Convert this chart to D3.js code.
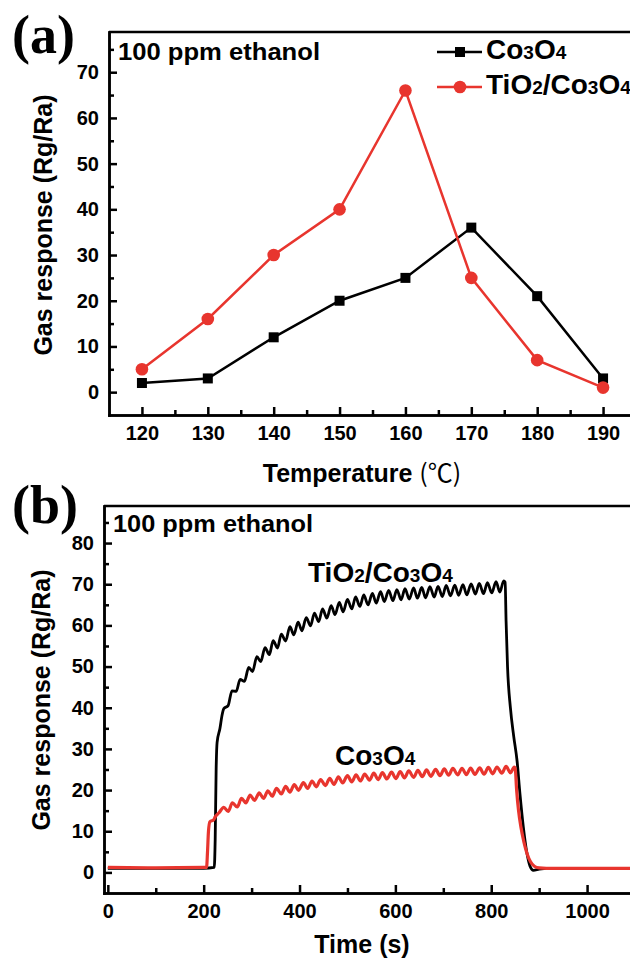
<!DOCTYPE html>
<html>
<head>
<meta charset="utf-8">
<script src="https://cdn.jsdelivr.net/npm/d3@7"></script>
<style>
  body { margin: 0; background: #fff; }
  svg { display: block; }
  text { font-family: "Liberation Sans", Arial, sans-serif; font-weight: bold; fill: #000; }
  .axis path, .axis line { stroke: #000; stroke-width: 2.5; }
  .axis text { font-size: 20px; font-family: "Liberation Sans", Arial, sans-serif; font-weight: bold; }
</style>
</head>
<body>
<div id="chart"></div>
<script>
// ---- panel (a): response vs operating temperature ----
var temps = [120, 130, 140, 150, 160, 170, 180, 190];
var co3o4Resp = [2, 3, 12, 20, 25, 36, 21, 3];
var tiCoResp = [5, 16, 30, 40, 66, 25, 7, 1];
var tempTicks = [120, 130, 140, 150, 160, 170, 180, 190];
var tempMinor = [125, 135, 145, 155, 165, 175, 185];
var respTicksA = [0, 10, 20, 30, 40, 50, 60, 70];
var respMinorA = [5, 15, 25, 35, 45, 55, 65, 75];

// ---- panel (b): dynamic response, 100 ppm ethanol ----
var tiCoTime = [0, 100, 200, 222, 224, 226, 228, 234, 238,
  242, 251, 259, 268, 276, 285, 294, 302, 311, 319, 328, 337, 345, 354, 362, 371, 380, 388, 397, 405,
  414, 423, 431, 440, 448, 457, 466, 474, 483, 491, 500, 509, 517, 526, 534, 543, 552, 560, 569, 577,
  586, 595, 603, 612, 620, 629, 638, 646, 655, 663, 672, 681, 689, 698, 706, 715, 724, 732, 741, 749,
  758, 767, 775, 784, 792, 801, 810, 818, 826,
  829, 831, 834, 840, 847, 854, 860, 867, 874, 881, 888, 900, 920, 1100];
var tiCoVal = [1, 1, 1, 1.2, 8, 25, 31.6, 35, 38,
  39.8, 40.5, 44.1, 44.0, 46.9, 46.4, 49.8, 48.8, 52.4, 51.2, 54.6, 52.9, 56.3, 54.5, 57.9, 56.2, 59.7, 57.7, 60.8, 58.7,
  61.9, 59.9, 63.0, 60.9, 64.0, 61.8, 64.8, 62.6, 65.6, 63.3, 66.3, 64.0, 66.9, 64.6, 67.4, 65.0, 67.8, 65.4, 68.2, 65.8,
  68.5, 66.0, 68.7, 66.2, 68.9, 66.4, 69.1, 66.6, 69.2, 66.7, 69.4, 66.9, 69.5, 67.0, 69.7, 67.2, 69.8, 67.3, 69.9, 67.4,
  70.1, 67.6, 70.2, 67.7, 70.4, 67.9, 70.6, 68.1, 70.8,
  70.5, 61, 50, 40, 33, 27, 19, 11, 5, 1.5, 0.5, 0.8, 1, 1];

var coTime = [0, 100, 200, 206, 208, 210, 213, 221, 224, 232,
  242, 251, 260, 270, 279, 288, 297, 306, 316, 325, 334, 343, 352, 362, 371, 380, 389, 398, 408, 417,
  426, 435, 444, 454, 463, 472, 481, 490, 500, 509, 518, 527, 536, 546, 555, 564, 573, 582, 592, 601,
  610, 619, 628, 638, 647, 656, 665, 674, 684, 693, 702, 711, 720, 730, 739, 748, 757, 766, 776, 785,
  794, 803, 812, 822, 831, 840, 848,
  850, 853, 857, 862, 868, 875, 882, 890, 900, 915, 1100];
var coVal = [1.2, 1.1, 1.2, 1.2, 5, 10, 12.3, 12.8, 13.5, 14.5,
  15.8, 14.8, 16.9, 15.9, 18.0, 16.9, 18.8, 17.5, 19.3, 18.0, 19.8, 18.5, 20.4, 19.05, 20.9, 19.5, 21.3, 19.95, 21.8, 20.4,
  22.2, 20.8, 22.55, 21.1, 22.85, 21.4, 23.2, 21.75, 23.5, 22.0, 23.7, 22.2, 23.9, 22.4, 24.1, 22.55, 24.25, 22.7, 24.35, 22.8,
  24.5, 22.95, 24.65, 23.1, 24.8, 23.25, 24.9, 23.35, 25.05, 23.5, 25.15, 23.6, 25.25, 23.7, 25.3, 23.75, 25.35, 23.8, 25.4, 23.85,
  25.5, 23.95, 25.6, 24.1, 25.75, 24.2, 25.6,
  25.3, 20, 15, 11, 7.5, 4.5, 2.6, 1.5, 1.1, 1, 1];
var timeTicks = [0, 200, 400, 600, 800, 1000];
var timeMinor = [100, 300, 500, 700, 900];
var respTicksB = [0, 10, 20, 30, 40, 50, 60, 70, 80];
var respMinorB = [5, 15, 25, 35, 45, 55, 65, 75, 85];

var width = 630, height = 961;
var red = "#e8352e";

var svg = d3.select("#chart").append("svg")
    .attr("width", width)
    .attr("height", height);

// write formulas like Co3O4 with small digits
function chem(textSel, str, big, small) {
    var parts = str.match(/[0-9]+|[^0-9]+/g);
    parts.forEach(function (p) {
        var isNum = /^[0-9]+$/.test(p);
        textSel.append("tspan")
            .style("font-size", (isNum ? small : big) + "px")
            .text(p);
    });
    return textSel;
}

function drawFrame(x, y, xMajor, xMinor, yMajor, yMinor) {
    var x0 = x.range()[0], x1 = x.range()[1];
    var y0 = y.range()[0], y1 = y.range()[1];
    var fmt = d3.format("d");

    svg.append("g").attr("class", "axis")
        .attr("transform", "translate(0," + y0 + ")")
        .call(d3.axisBottom(x).tickValues(xMinor).tickSize(-5).tickSizeOuter(0).tickFormat(""));
    svg.append("g").attr("class", "axis")
        .attr("transform", "translate(0," + y0 + ")")
        .call(d3.axisBottom(x).tickValues(xMajor).tickSize(-8).tickSizeOuter(0).tickPadding(11).tickFormat(fmt));

    svg.append("g").attr("class", "axis")
        .attr("transform", "translate(" + x0 + ",0)")
        .call(d3.axisLeft(y).tickValues(yMinor).tickSize(-5).tickSizeOuter(0).tickFormat(""));
    svg.append("g").attr("class", "axis")
        .attr("transform", "translate(" + x0 + ",0)")
        .call(d3.axisLeft(y).tickValues(yMajor).tickSize(-8).tickSizeOuter(0).tickPadding(10).tickFormat(fmt));

    // top border (right border runs off the page)
    svg.append("line")
        .attr("x1", x0).attr("x2", x1)
        .attr("y1", y1).attr("y2", y1)
        .attr("stroke", "#000").attr("stroke-width", 2.5);
    svg.selectAll(".axis .domain").attr("stroke-linecap", "square");
}

// ===== panel (a) =====
var xa = d3.scaleLinear().domain([115, 195]).range([109, 636]);
var ya = d3.scaleLinear().domain([-5, 78.8]).range([415, 32]);

drawFrame(xa, ya, tempTicks, tempMinor, respTicksA, respMinorA);

var lineA = d3.line()
    .x(function (d) { return xa(d[0]); })
    .y(function (d) { return ya(d[1]); });

var blackPts = d3.zip(temps, co3o4Resp);
var redPts = d3.zip(temps, tiCoResp);

svg.append("path").datum(blackPts)
    .attr("d", lineA).attr("fill", "none")
    .attr("stroke", "#000").attr("stroke-width", 2.5);
svg.selectAll(".sq").data(blackPts).enter().append("rect")
    .attr("class", "sq")
    .attr("x", function (d) { return xa(d[0]) - 5; })
    .attr("y", function (d) { return ya(d[1]) - 5; })
    .attr("width", 10).attr("height", 10)
    .attr("fill", "#000");

svg.append("path").datum(redPts)
    .attr("d", lineA).attr("fill", "none")
    .attr("stroke", red).attr("stroke-width", 2.5);
svg.selectAll(".dot").data(redPts).enter().append("circle")
    .attr("class", "dot")
    .attr("cx", function (d) { return xa(d[0]); })
    .attr("cy", function (d) { return ya(d[1]); })
    .attr("r", 6.3)
    .attr("fill", red);

// legend
var legend = [
    { name: "Co3O4", color: "#000", shape: "sq", y: 52 },
    { name: "TiO2/Co3O4", color: red, shape: "dot", y: 87 }
];
legend.forEach(function (l) {
    svg.append("line")
        .attr("x1", 437).attr("x2", 482).attr("y1", l.y).attr("y2", l.y)
        .attr("stroke", l.color).attr("stroke-width", 2.5);
    if (l.shape == "sq") {
        svg.append("rect").attr("x", 455).attr("y", l.y - 5)
            .attr("width", 10).attr("height", 10).attr("fill", l.color);
    } else {
        svg.append("circle").attr("cx", 460).attr("cy", l.y).attr("r", 6.3).attr("fill", l.color);
    }
    chem(svg.append("text").attr("x", 486).attr("y", l.y + 7), l.name, 28, 19);
});

svg.append("text").attr("x", 118).attr("y", 60)
    .attr("textLength", 202).attr("lengthAdjust", "spacingAndGlyphs")
    .style("font-size", "24px").text("100 ppm ethanol");

svg.append("text").attr("x", 12).attr("y", 53)
    .style("font-family", "'Liberation Serif', 'Times New Roman', serif")
    .style("font-size", "54px").text("(a)");

svg.append("text")
    .attr("transform", "translate(52,225) rotate(-90)")
    .attr("text-anchor", "middle")
    .style("font-size", "25px").text("Gas response (Rg/Ra)");

var tLabel = svg.append("text").attr("x", 362).attr("y", 482)
    .attr("text-anchor", "middle").style("font-size", "25px");
tLabel.append("tspan").text("Temperature ");
tLabel.append("tspan").style("font-weight", "normal")
    .style("font-family", "'Noto Sans CJK SC', 'DejaVu Sans', sans-serif").text("(℃)");

// ===== panel (b) =====
var xb = d3.scaleLinear().domain([-8, 1100]).range([104, 635]);
var yb = d3.scaleLinear().domain([-5, 89]).range([893, 506]);

drawFrame(xb, yb, timeTicks, timeMinor, respTicksB, respMinorB);

var lineB = d3.line()
    .curve(d3.curveMonotoneX)
    .x(function (d) { return xb(d[0]); })
    .y(function (d) { return yb(d[1]); });

svg.append("path").datum(d3.zip(tiCoTime, tiCoVal))
    .attr("d", lineB).attr("fill", "none")
    .attr("stroke", "#000").attr("stroke-width", 2.8)
    .attr("stroke-linejoin", "round");
svg.append("path").datum(d3.zip(coTime, coVal))
    .attr("d", lineB).attr("fill", "none")
    .attr("stroke", red).attr("stroke-width", 3.2)
    .attr("stroke-linejoin", "round");

svg.append("text").attr("x", 113).attr("y", 532)
    .attr("textLength", 200).attr("lengthAdjust", "spacingAndGlyphs")
    .style("font-size", "24px").text("100 ppm ethanol");

svg.append("text").attr("x", 12).attr("y", 523)
    .style("font-family", "'Liberation Serif', 'Times New Roman', serif")
    .style("font-size", "54px").text("(b)");

chem(svg.append("text").attr("x", 308).attr("y", 582), "TiO2/Co3O4", 28, 19);
chem(svg.append("text").attr("x", 335).attr("y", 765), "Co3O4", 28, 19);

svg.append("text")
    .attr("transform", "translate(50,700) rotate(-90)")
    .attr("text-anchor", "middle")
    .style("font-size", "25px").text("Gas response (Rg/Ra)");

svg.append("text").attr("x", 362).attr("y", 953)
    .attr("text-anchor", "middle")
    .style("font-size", "25px").text("Time (s)");
</script>
</body>
</html>
